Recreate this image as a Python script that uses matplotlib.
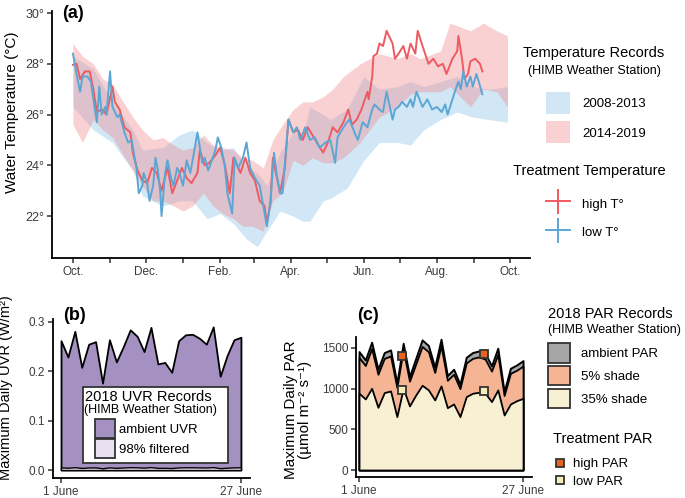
import matplotlib
matplotlib.use("Agg")
import matplotlib.pyplot as plt
from matplotlib.lines import Line2D
from matplotlib.patches import Patch, Rectangle

plt.rcParams["font.family"] = ["Liberation Sans", "DejaVu Sans"]

# ---- (a) water temperature, x = days since 1 Oct
high_day = [0, 3, 6, 10, 14, 17, 20, 24, 28, 33, 35, 39, 43, 48, 50, 54, 58, 62, 66, 70,
            74, 79, 83, 87, 91, 95, 99, 104, 106, 110, 114, 119, 123, 127, 131, 134, 140, 144, 148, 152,
            156, 160, 162, 165, 167, 170, 173, 177, 180, 184, 188, 192, 196, 200, 205, 209, 213, 217, 221, 226,
            230, 233, 237, 241, 246, 247, 250, 251, 254, 256, 259, 262, 267, 269, 272, 276, 279, 282, 286, 288,
            292, 297, 301, 305, 309, 312, 317, 321, 322, 325, 327, 330, 332, 336, 340, 342]
high_temp = [27.96, 28.0, 27.4, 27.7, 27.7, 27.0, 26.1, 26.2, 26.0, 27.1, 26.5, 26.2, 25.5, 25.3, 24.5, 23.8, 23.4, 23.3, 23.9, 23.7,
             23.0, 23.9, 22.9, 23.4, 23.9, 23.5, 23.3, 23.7, 24.6, 24.0, 24.1, 24.4, 24.7, 24.0, 22.9, 24.3, 23.7, 24.3, 23.7, 23.4,
             22.6, 22.4, 21.7, 22.5, 24.3, 23.6, 22.9, 23.9, 25.8, 25.3, 25.4, 25.0, 25.5, 25.2, 24.8, 24.5, 24.9, 25.5, 25.3, 25.7,
             26.2, 25.6, 25.8, 26.2, 26.9, 26.6, 27.5, 28.3, 28.4, 28.8, 28.7, 29.3, 28.8, 28.2, 28.4, 28.7, 28.2, 28.8, 28.4, 29.3,
             28.7, 28.0, 28.2, 27.9, 28.0, 27.6, 28.2, 28.5, 29.1, 28.2, 27.4, 27.6, 28.1, 28.2, 28.0, 27.7]

low_day = [0, 3, 6, 8, 12, 15, 18, 20, 22, 24, 27, 28, 31, 33, 37, 39, 43, 46, 49, 53,
           55, 58, 59, 62, 64, 67, 69, 71, 73, 74, 77, 79, 82, 84, 87, 89, 92, 95, 98, 100,
           104, 105, 108, 110, 113, 116, 119, 121, 124, 127, 129, 133, 135, 138, 142, 145, 148, 152, 156, 159,
           162, 165, 168, 170, 173, 175, 178, 180, 184, 187, 190, 194, 198, 202, 206, 211, 215, 219, 221, 226,
           229, 231, 236, 238, 242, 246, 250, 252, 256, 259, 262, 267, 269, 272, 275, 279, 282, 284, 287, 292,
           296, 300, 304, 308, 311, 313, 317, 319, 322, 324, 326, 329, 332, 334, 337, 339, 342]
low_temp = [28.4, 27.6, 26.9, 27.5, 27.5, 27.3, 26.3, 25.7, 27.1, 26.0, 26.3, 26.0, 27.7, 26.3, 25.9, 26.0, 25.3, 24.9, 25.0, 23.9,
            22.9, 23.2, 23.7, 23.3, 22.6, 23.2, 24.3, 23.8, 22.9, 22.0, 23.7, 24.2, 23.5, 23.2, 23.9, 23.7, 23.2, 24.2, 23.7, 24.2,
            25.3, 25.0, 24.1, 24.3, 23.8, 24.2, 24.6, 25.1, 24.7, 23.9, 22.9, 22.1, 24.3, 23.9, 24.3, 24.9, 23.9, 23.5, 23.2, 22.4,
            21.6, 22.6, 24.5, 23.7, 22.9, 22.9, 24.6, 25.8, 25.3, 25.5, 25.0, 25.5, 25.0, 25.1, 24.7, 24.9, 25.0, 24.1, 25.1, 25.5,
            25.7, 25.8, 25.2, 25.0, 25.7, 25.5, 26.2, 26.4, 26.2, 26.1, 26.9, 25.8, 26.2, 26.3, 26.5, 26.3, 26.6, 26.3, 26.9, 26.3,
            26.6, 26.2, 26.3, 26.1, 26.4, 26.0, 26.6, 26.9, 27.3, 27.0, 27.7, 27.1, 27.5, 27.1, 27.6, 27.3, 26.8]

rec0813_day = [0, 17, 33, 50, 58, 75, 89, 100, 112, 123, 134, 145, 154, 162, 173, 184, 192, 198, 209, 215,
               229, 243, 256, 271, 282, 293, 307, 321, 334, 348, 363]
rec0813_lo = [26.3, 25.4, 24.9, 23.8, 22.8, 22.4, 22.6, 22.6, 21.9, 22.1, 21.7, 21.1, 20.8, 21.4, 22.2, 22.0, 21.8, 21.8, 22.6, 22.7,
              23.1, 24.2, 24.9, 24.9, 24.8, 25.4, 25.8, 26.1, 25.9, 25.8, 25.7]
rec0813_hi = [28.3, 27.8, 26.5, 25.4, 24.6, 24.7, 25.2, 25.4, 24.9, 24.6, 24.7, 23.9, 23.7, 23.2, 24.5, 25.3, 25.2, 26.3, 26.0, 25.8,
              26.2, 27.5, 27.0, 27.1, 27.3, 27.1, 27.3, 27.5, 27.1, 27.0, 27.1]

rec1419_day = [0, 8, 17, 25, 33, 42, 50, 58, 67, 75, 84, 92, 100, 109, 117, 125, 134, 142, 150, 159,
               167, 175, 184, 192, 200, 209, 217, 226, 240, 256, 271, 282, 290, 307, 315, 332, 343, 354, 363]
rec1419_lo = [25.6, 24.9, 25.8, 25.4, 25.1, 24.4, 23.8, 23.2, 22.6, 22.6, 22.4, 22.2, 22.4, 22.9, 22.4, 22.1, 21.9, 21.6, 21.6, 21.4,
              22.6, 22.9, 24.2, 24.0, 24.3, 24.1, 24.1, 24.3, 24.9, 25.9, 26.3, 26.8, 26.9, 26.9, 27.1, 26.3, 27.0, 26.9, 26.3]
rec1419_hi = [28.8, 28.3, 28.0, 27.4, 27.2, 26.5, 25.9, 25.4, 25.0, 25.1, 24.8, 24.6, 24.7, 25.2, 24.8, 24.7, 24.6, 24.3, 24.2, 23.9,
              25.0, 25.6, 26.2, 26.5, 26.5, 26.7, 27.0, 27.5, 28.0, 28.4, 28.2, 28.4, 28.2, 28.5, 29.6, 29.3, 29.6, 29.3, 29.1]

month_days = [0, 31, 61, 92, 123, 151, 182, 212, 243, 273, 304, 335, 365]
month_labels = ["Oct.", "", "Dec.", "", "Feb.", "", "Apr.", "", "Jun.", "", "Aug.", "", "Oct."]
temp_ticks = [22, 24, 26, 28, 30]

# ---- (b) UVR, June 2018
june_day = list(range(1, 28))
uvr_ambient = [0.262, 0.229, 0.281, 0.208, 0.255, 0.26, 0.176, 0.264, 0.219, 0.25, 0.284, 0.271, 0.24, 0.289,
               0.215, 0.218, 0.198, 0.262, 0.274, 0.275, 0.267, 0.255, 0.29, 0.19, 0.232, 0.264, 0.269]
uvr_filtered = [0.0052, 0.0046, 0.0056, 0.0042, 0.0051, 0.0052, 0.0035, 0.0053, 0.0044, 0.005, 0.0057, 0.0054, 0.0048, 0.0058,
                0.0043, 0.0044, 0.004, 0.0052, 0.0055, 0.0055, 0.0053, 0.0051, 0.0058, 0.0038, 0.0046, 0.0053, 0.0054]

# ---- (c) PAR, June 2018
par_ambient = [1455, 1352, 1570, 1238, 1443, 1475, 1066, 1557, 1148, 1373, 1598, 1529, 1262, 1607,
               1160, 1238, 1053, 1385, 1443, 1463, 1434, 1279, 1496, 963, 1250, 1291, 1344]
par_shade5 = [1382, 1284, 1492, 1176, 1371, 1401, 1013, 1479, 1091, 1304, 1518, 1453, 1199, 1527,
              1102, 1176, 1000, 1316, 1371, 1390, 1362, 1215, 1421, 915, 1188, 1226, 1277]
par_shade35 = [943, 873, 1004, 770, 951, 971, 656, 1004, 787, 922, 1041, 984, 861, 1033,
               766, 811, 656, 902, 943, 955, 943, 840, 984, 676, 811, 852, 881]
trt_day = [7.8, 20.8]
trt_high = [1402, 1426]
trt_low = [984, 971]

RED = "#EE5A60"
BLUE = "#5AA7D6"
TICK = "#3a3a3a"


def fx(px):
    return px / 685


def fy(px):
    return 1 - px / 498


def style(ax):
    for s in ["top", "right"]:
        ax.spines[s].set_visible(False)
    for s in ["left", "bottom"]:
        ax.spines[s].set_linewidth(1.3)
    ax.tick_params(length=3.5, width=1.1, color="#333333", labelsize=8.5, labelcolor=TICK, pad=2)


fig = plt.figure(figsize=(6.85, 4.98), dpi=100)

# ---------------- panel a
ax = fig.add_axes([fx(52), fy(258), fx(530) - fx(52), fy(11) - fy(258)])
ax.fill_between(rec0813_day, rec0813_lo, rec0813_hi, color="#8EC3E6", alpha=0.4, lw=0)
ax.fill_between(rec1419_day, rec1419_lo, rec1419_hi, color="#F08C92", alpha=0.4, lw=0)
ax.plot(high_day, high_temp, color=RED, lw=1.4)
ax.plot(low_day, low_temp, color=BLUE, lw=1.4)
ax.set_xlim(-17.5, 381.8)
ax.set_ylim(20.35, 30.08)
ax.set_xticks(month_days)
ax.set_xticklabels(month_labels)
ax.set_yticks(temp_ticks)
ax.set_yticklabels([f"{t}°" for t in temp_ticks])
style(ax)
ax.tick_params(axis="y", labelsize=9)
ax.set_ylabel("Water Temperature (°C)", fontsize=11)
ax.yaxis.set_label_coords(-0.068, 0.59)

fig.text(fx(62), fy(14), "(a)", fontsize=13, fontweight="bold", va="center")

fig.text(fx(594), fy(53), "Temperature Records", fontsize=10.5, ha="center", va="center")
fig.text(fx(594), fy(71), "(HIMB Weather Station)", fontsize=9, ha="center", va="center")
rec_handles = [Patch(facecolor="#8EC3E6", alpha=0.4, lw=0), Patch(facecolor="#F08C92", alpha=0.4, lw=0)]
fig.legend(rec_handles, ["2008-2013", "2014-2019"], loc="upper left", bbox_to_anchor=(fx(546), fy(92)),
           frameon=False, fontsize=9.5, handlelength=1.82, handleheight=2.2, labelspacing=0.55,
           handletextpad=0.9, borderpad=0, borderaxespad=0)

fig.text(fx(513), fy(171), "Treatment Temperature", fontsize=10.5, va="center")
trt_handles = [Line2D([], [], color=RED, lw=1.4, marker="|", markersize=18, markeredgewidth=1.4),
               Line2D([], [], color=BLUE, lw=1.4, marker="|", markersize=18, markeredgewidth=1.4)]
fig.legend(trt_handles, ["high T°", "low T°"], loc="upper left", bbox_to_anchor=(fx(546), fy(194)),
           frameon=False, fontsize=9.5, handlelength=1.82, handleheight=1.82, labelspacing=0.75,
           handletextpad=0.9, borderpad=0, borderaxespad=0)

# ---------------- panel b
bx = fig.add_axes([fx(53), fy(478), fx(250) - fx(53), fy(319) - fy(478)])
bx.fill_between(june_day, 0, uvr_ambient, facecolor="#A590C2", edgecolor="black", lw=1.3)
bx.fill_between(june_day, 0, uvr_filtered, facecolor="#E9E0F0", edgecolor="black", lw=1.0)
bx.set_xlim(-0.156, 28.31)
bx.set_ylim(-0.0162, 0.306)
bx.set_xticks([1, 27])
bx.set_xticklabels(["1 June", "27 June"])
bx.set_yticks([0.0, 0.1, 0.2, 0.3])
bx.set_yticklabels(["0.0", "0.1", "0.2", "0.3"])
style(bx)
bx.set_ylabel("Maximum Daily UVR (W/m²)", fontsize=10.5)
bx.yaxis.set_label_coords(-0.205, 0.57)

fig.text(fx(63), fy(315), "(b)", fontsize=13, fontweight="bold", va="center")

fig.add_artist(Rectangle((fx(83), fy(463)), fx(228) - fx(83), fy(387) - fy(463), transform=fig.transFigure,
                         facecolor="white", edgecolor="#333333", lw=1.3, zorder=3))
fig.text(fx(85), fy(397), "2018 UVR Records", fontsize=10.5, va="center", zorder=4)
fig.text(fx(84), fy(410), "(HIMB Weather Station)", fontsize=9, va="center", zorder=4)
uvr_handles = [Patch(facecolor="#A590C2", edgecolor="#333333", lw=1.3),
               Patch(facecolor="#E9E0F0", edgecolor="#333333", lw=1.3)]
leg = fig.legend(uvr_handles, ["ambient UVR", "98% filtered"], loc="upper left", bbox_to_anchor=(fx(95), fy(419)),
                 frameon=False, fontsize=9.5, handlelength=1.52, handleheight=1.8, labelspacing=0.12,
                 handletextpad=0.3, borderpad=0, borderaxespad=0)
leg.set_zorder(5)

# ---------------- panel c
cx = fig.add_axes([fx(356), fy(477), fx(532) - fx(356), fy(337) - fy(477)])
cx.fill_between(june_day, 0, par_ambient, facecolor="#A6A6A6", edgecolor="black", lw=1.4)
cx.fill_between(june_day, 0, par_shade5, facecolor="#F5B594", edgecolor="black", lw=1.3)
cx.fill_between(june_day, 0, par_shade35, facecolor="#F8F0D3", edgecolor="black", lw=1.3)
cx.plot(trt_day, trt_high, "s", color="#E8641E", markeredgecolor="#333333", markersize=6, markeredgewidth=1.3)
cx.plot(trt_day, trt_low, "s", color="#F5EDB8", markeredgecolor="#333333", markersize=6, markeredgewidth=1.3)
cx.set_xlim(0.52, 28.42)
cx.set_ylim(-86, 1634)
cx.set_xticks([1, 27])
cx.set_xticklabels(["1 June", "27 June"])
cx.set_yticks([0, 500, 1000, 1500])
style(cx)
cx.set_ylabel("Maximum Daily PAR\n(µmol m⁻² s⁻¹)", fontsize=11, linespacing=1.0)
cx.yaxis.set_label_coords(-0.25, 0.48)

fig.text(fx(357), fy(315), "(c)", fontsize=13, fontweight="bold", va="center")

fig.text(fx(610), fy(314), "2018 PAR Records", fontsize=10.5, ha="center", va="center")
fig.text(fx(614), fy(330), "(HIMB Weather Station)", fontsize=9, ha="center", va="center")
par_handles = [Patch(facecolor="#A6A6A6", edgecolor="#333333", lw=1.3),
               Patch(facecolor="#F5B594", edgecolor="#333333", lw=1.3),
               Patch(facecolor="#F8F0D3", edgecolor="#333333", lw=1.3)]
fig.legend(par_handles, ["ambient PAR", "5% shade", "35% shade"], loc="upper left", bbox_to_anchor=(fx(548), fy(343)),
           frameon=False, fontsize=9.5, handlelength=1.67, handleheight=1.9, labelspacing=0.25,
           handletextpad=0.8, borderpad=0, borderaxespad=0)

fig.text(fx(553), fy(439), "Treatment PAR", fontsize=10.5, va="center")
tpar_handles = [Line2D([], [], ls="none", marker="s", color="#E8641E", markeredgecolor="#333333", markersize=6, markeredgewidth=1.3),
                Line2D([], [], ls="none", marker="s", color="#F5EDB8", markeredgecolor="#333333", markersize=6, markeredgewidth=1.3)]
fig.legend(tpar_handles, ["high PAR", "low PAR"], loc="upper left", bbox_to_anchor=(fx(553), fy(458)),
           frameon=False, fontsize=9.5, handlelength=1.06, labelspacing=0.4,
           handletextpad=0.45, borderpad=0, borderaxespad=0)

fig.savefig("out.png", dpi=100)
